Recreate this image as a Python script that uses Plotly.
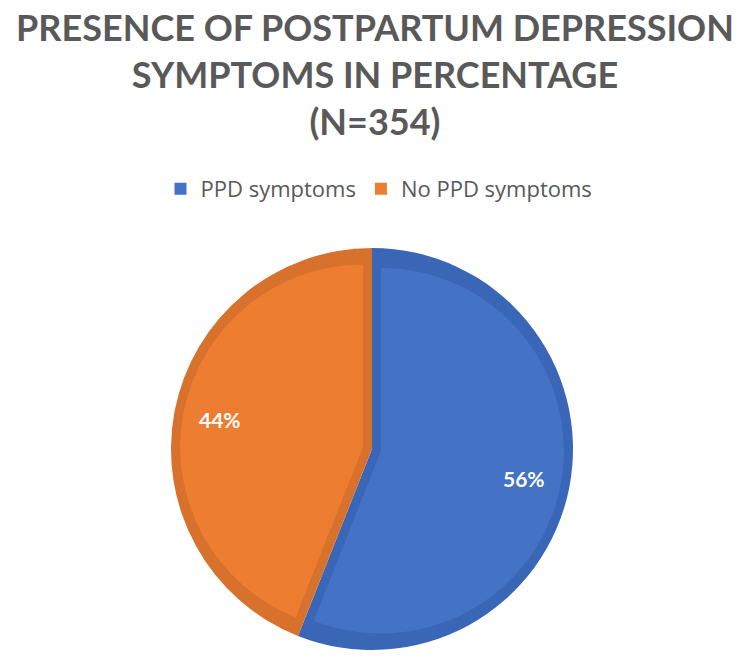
import math
import plotly.graph_objects as go

# Data
labels = ["PPD symptoms", "No PPD symptoms"]
percentages = [56, 44]
fill_colors = ["#4472C4", "#ED7D31"]
edge_colors = ["#3A66B8", "#D8712C"]
title_lines = ["PRESENCE OF POSTPARTUM DEPRESSION", "SYMPTOMS IN PERCENTAGE", "(N=354)"]

W, H = 750, 658
# outer pie box (pixels, layout coordinates)
cx, cy, r = 364, 441, 201
inset = 9
pull_px = 9.2
label_r = 0.77


def dom(cx, cy, half):
    return dict(x=[(cx - half) / W, (cx + half) / W],
                y=[1 - (cy + half) / H, 1 - (cy - half) / H])

half_b = r - inset
r_b = half_b - pull_px
pull_frac = pull_px / r_b

fig = go.Figure()
# darker outer pie forming the border
fig.add_trace(go.Pie(
    labels=labels, values=percentages, sort=False, direction="clockwise", rotation=0,
    marker=dict(colors=edge_colors, line=dict(width=0)),
    textinfo="none", hoverinfo="skip", showlegend=False,
    domain=dom(cx, cy, r),
))
# inner inset pie with the fill colours
fig.add_trace(go.Pie(
    labels=labels, values=percentages, sort=False, direction="clockwise", rotation=0,
    marker=dict(colors=fill_colors, line=dict(width=0)),
    pull=[pull_frac] * len(labels),
    textinfo="none",
    hoverinfo="label+percent",
    domain=dom(cx, cy, half_b),
))

# percentage labels placed along each slice's mid-angle
total = sum(percentages)
cum = 0
for v in percentages:
    mid = (cum + v / 2) / total * 2 * math.pi
    cum += v
    px = cx + label_r * r * math.sin(mid)
    py = cy - label_r * r * math.cos(mid)
    fig.add_annotation(
        x=px / W, y=1 - py / H, xref="paper", yref="paper",
        xanchor="center", yanchor="middle",
        text=f"{v / total:.0%}", showarrow=False,
        font=dict(family="Lato", size=21, color="white", weight="bold"),
    )

fig.update_layout(
    width=W, height=H,
    margin=dict(l=0, r=0, t=0, b=0),
    paper_bgcolor="white", plot_bgcolor="white",
    title=dict(
        text="<br>".join(title_lines),
        x=367 / W, xanchor="center", y=0.95, yanchor="top",
        font=dict(family="Lato", size=36, color="#595959", weight="bold"),
    ),
    legend=dict(
        orientation="h", x=371 / W, xanchor="center", y=1 - 181 / H, yanchor="middle",
        font=dict(family="Open Sans", size=22, color="#595959"),
        traceorder="normal",
    ),
)

fig.write_html("out.html")
